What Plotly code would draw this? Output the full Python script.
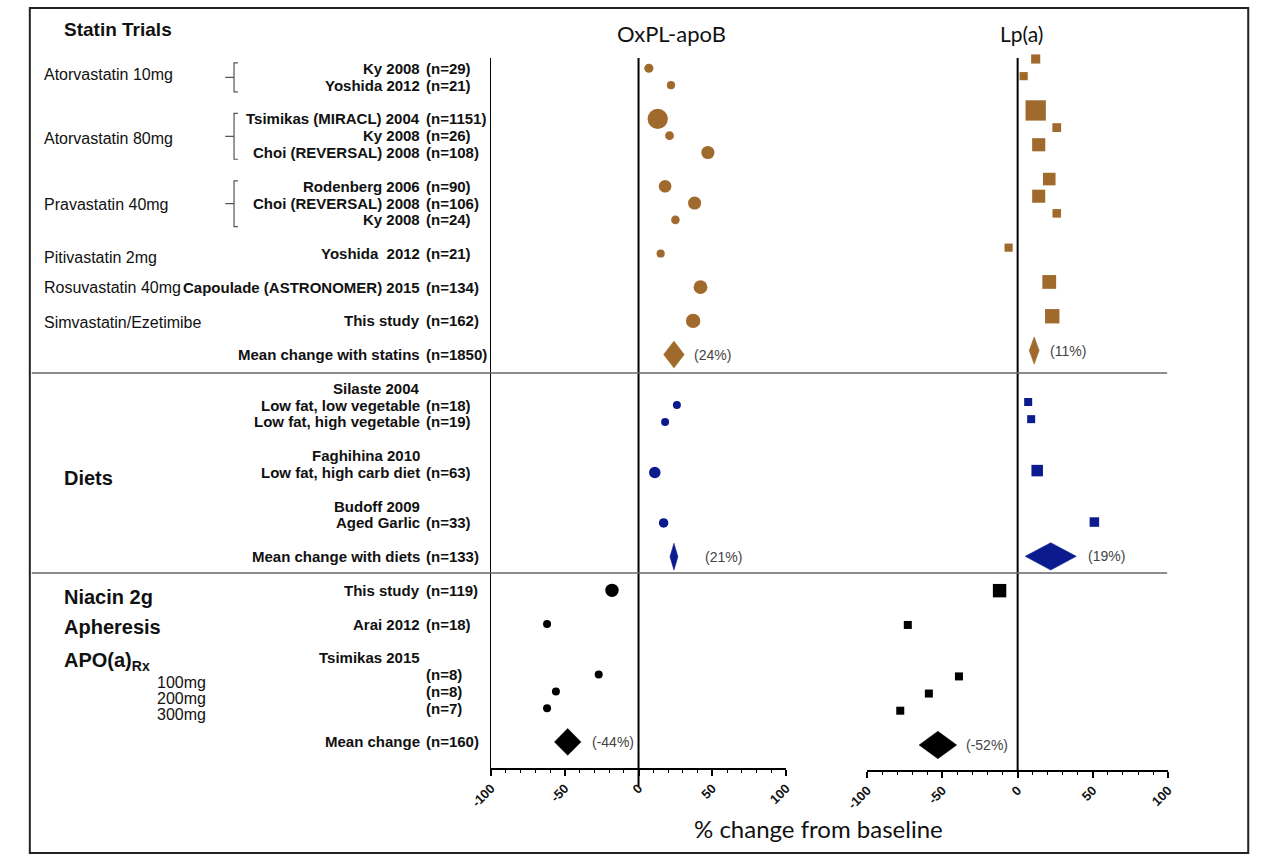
import math
import plotly.graph_objects as go

W, H = 1265, 857

# ---------------- data ----------------
statin_rows = [0, 1, 3, 4, 5, 7, 8, 9, 11, 13, 15]
statin_names = ["Ky 2008", "Yoshida 2012", "Tsimikas (MIRACL) 2004", "Ky 2008",
                "Choi (REVERSAL) 2008", "Rodenberg 2006", "Choi (REVERSAL) 2008",
                "Ky 2008", "Yoshida  2012", "Capoulade (ASTRONOMER) 2015", "This study"]
statin_n = [29, 21, 1151, 26, 108, 90, 106, 24, 21, 134, 162]
statin_oxpl = [7, 22, 13, 21, 47, 18, 38, 25, 15, 42, 37]
statin_lpa = [12, 4, 12, 26, 14, 21, 14, 26, -6, 21, 23]

statin_groups = ["Atorvastatin 10mg", "Atorvastatin 80mg", "Pravastatin 40mg",
                 "Pitivastatin 2mg", "Rosuvastatin 40mg", "Simvastatin/Ezetimibe"]
statin_group_rows = [0.36, 4.17, 8.1, 11.25, 13.0, 15.1]
bracket_spans = [(0, 1), (3, 5), (7, 9)]

diet_rows = [20, 21, 24, 27]
diet_names = ["Low fat, low vegetable", "Low fat, high vegetable",
              "Low fat, high carb diet", "Aged Garlic"]
diet_n = [18, 19, 63, 33]
diet_oxpl = [26, 18, 11, 17]
diet_lpa = [7, 9, 13, 51]
diet_headers = ["Silaste 2004", "Faghihina 2010", "Budoff 2009"]
diet_header_rows = [19, 23, 26]

other_rows = [31, 33, 36, 37, 38]
other_names = ["This study", "Arai 2012", "", "", ""]
other_n = [119, 18, 8, 8, 7]
other_oxpl = [-18, -62, -27, -56, -62]
other_lpa = [-12, -73, -39, -59, -78]
other_headers = ["Tsimikas 2015"]
other_header_rows = [35]
other_groups = ["<b>Niacin 2g</b>", "<b>Apheresis</b>", "<b>APO(a)<sub>Rx</sub></b>"]
other_group_rows = [31.4, 33.2, 35.2]
dose_labels = ["100mg", "200mg", "300mg"]
dose_rows = [36.5, 37.45, 38.4]

mean_rows = [17, 29, 40]
mean_names = ["Mean change with statins", "Mean change with diets", "Mean change"]
mean_n = [1850, 133, 160]
mean_oxpl = [24, 24, -48]
mean_oxpl_ci = [7, 2.7, 9]
mean_oxpl_text = ["(24%)", "(21%)", "(-44%)"]
mean_lpa = [11, 22, -53]
mean_lpa_ci = [3.3, 17, 12.5]
mean_lpa_text = ["(11%)", "(19%)", "(-52%)"]

tick_vals = [-100, -50, 0, 50, 100]
tick_text = [str(v) for v in tick_vals]

# ---------------- styling ----------------
BROWN = "#A06A2C"
BLUE = "#0B1A8C"
BLACK = "#000000"
ARIAL = "Liberation Sans, Arial, sans-serif"
CAL = "Lato, Open Sans, sans-serif"
ROW_PX = 16.84      # left panel / labels row pitch
ROW0 = 68.3
ROW_PX2 = 17.15     # right panel row pitch (slightly different in the original)
ROW0_2 = 59.0


def px(x):
    return x / W


def py(y):
    return 1 - y / H


def msize(n):
    return max(8.0, 8 + 7 * (math.log10(n) - 1.3))


fig = go.Figure()

sections = [
    (statin_rows, statin_n, statin_oxpl, statin_lpa, BROWN),
    (diet_rows, diet_n, diet_oxpl, diet_lpa, BLUE),
    (other_rows, other_n, other_oxpl, other_lpa, BLACK),
]
for rows, ns, ox, lp, col in sections:
    sizes = [msize(n) for n in ns]
    fig.add_trace(go.Scatter(x=ox, y=rows, mode="markers", xaxis="x", yaxis="y",
                             marker=dict(symbol="circle", size=sizes, color=col, opacity=1,
                                         line=dict(width=0)),
                             cliponaxis=False, showlegend=False, hoverinfo="x"))
    fig.add_trace(go.Scatter(x=lp, y=rows, mode="markers", xaxis="x2", yaxis="y2",
                             marker=dict(symbol="square", size=sizes, color=col, opacity=1,
                                         line=dict(width=0)),
                             cliponaxis=False, showlegend=False, hoverinfo="x"))

mean_cols = [BROWN, BLUE, BLACK]
DH = 0.8  # half height of diamonds in rows
for i, r in enumerate(mean_rows):
    for vals, cis, xa, ya in [(mean_oxpl, mean_oxpl_ci, "x", "y"),
                              (mean_lpa, mean_lpa_ci, "x2", "y2")]:
        m, c = vals[i], cis[i]
        fig.add_trace(go.Scatter(x=[m - c, m, m + c, m, m - c],
                                 y=[r, r - DH, r, r + DH, r],
                                 mode="lines", fill="toself", fillcolor=mean_cols[i],
                                 line=dict(color=mean_cols[i], width=0.5),
                                 cliponaxis=False,
                                 xaxis=xa, yaxis=ya, showlegend=False, hoverinfo="skip"))

ann = []
shapes = []

# percentage labels next to diamonds
oxpl_gap = [8, 25, 9]
lpa_gap = [9, 10, 7]
for i, r in enumerate(mean_rows):
    ann.append(dict(x=mean_oxpl[i] + mean_oxpl_ci[i], y=r, xref="x", yref="y",
                    text=mean_oxpl_text[i], showarrow=False, xanchor="left",
                    xshift=oxpl_gap[i], font=dict(family=ARIAL, size=14, color="#444")))
    ann.append(dict(x=mean_lpa[i] + mean_lpa_ci[i], y=r, xref="x2", yref="y2",
                    text=mean_lpa_text[i], showarrow=False, xanchor="left",
                    xshift=lpa_gap[i], font=dict(family=ARIAL, size=14, color="#444")))

NAME_X = px(409)
N_X = px(411)
lab_font = dict(family=ARIAL, size=15, color="#111")


def add_study(name, n, row):
    if name:
        ann.append(dict(x=NAME_X, y=row, xref="paper", yref="y", text="<b>%s</b>" % name,
                        showarrow=False, xanchor="right", font=lab_font))
    if n is not None:
        ann.append(dict(x=N_X, y=row, xref="paper", yref="y", text="<b>(n=%d)</b>" % n,
                        showarrow=False, xanchor="left", font=lab_font))


for nm, n, r in zip(statin_names, statin_n, statin_rows):
    add_study(nm, n, r)
for nm, n, r in zip(diet_names, diet_n, diet_rows):
    add_study(nm, n, r)
for nm, n, r in zip(other_names, other_n, other_rows):
    add_study(nm, n, r)
for nm, n, r in zip(mean_names, mean_n, mean_rows):
    add_study(nm, n, r)
for nm, r in zip(diet_headers + other_headers, diet_header_rows + other_header_rows):
    add_study(nm, None, r)

# group labels
for g, r in zip(statin_groups, statin_group_rows):
    ann.append(dict(x=px(20), y=r, xref="paper", yref="y", text=g, showarrow=False,
                    xanchor="left", font=dict(family=ARIAL, size=16, color="#111")))
for g, r in zip(other_groups, other_group_rows):
    ann.append(dict(x=px(41), y=r, xref="paper", yref="y", text=g, showarrow=False,
                    xanchor="left", font=dict(family=ARIAL, size=20, color="#111")))
for g, r in zip(dose_labels, dose_rows):
    ann.append(dict(x=px(136), y=r, xref="paper", yref="y", text=g, showarrow=False,
                    xanchor="left", font=dict(family=ARIAL, size=16, color="#111")))
ann.append(dict(x=px(41), y=24.3, xref="paper", yref="y", text="<b>Diets</b>",
                showarrow=False, xanchor="left", font=dict(family=ARIAL, size=20, color="#111")))
ann.append(dict(x=px(41), y=py(30), xref="paper", yref="paper", text="<b>Statin Trials</b>",
                showarrow=False, xanchor="left", yanchor="middle",
                font=dict(family=ARIAL, size=19, color="#111")))

# panel titles and axis title
ann.append(dict(x=px(665), y=py(33), xref="paper", yref="paper", text="OxPL-apoB",
                showarrow=False, xanchor="center", yanchor="middle",
                font=dict(family=CAL, size=22, color="#111")))
ann.append(dict(x=px(1023), y=py(33), xref="paper", yref="paper", text="Lp(a)",
                showarrow=False, xanchor="center", yanchor="middle",
                font=dict(family=CAL, size=21, color="#111")))
ann.append(dict(x=px(815), y=py(828), xref="paper", yref="paper",
                text="% change from baseline", showarrow=False, xanchor="center",
                yanchor="middle", font=dict(family=CAL, size=24, color="#111")))

# brackets
BX, HOOK, NUB = 217, 4, 9
for a, b in bracket_spans:
    top, bot = a - 0.32, b + 0.4
    mid = (top + bot) / 2
    path = ("M %f,%f L %f,%f L %f,%f L %f,%f M %f,%f L %f,%f" %
            (px(BX + HOOK), top, px(BX), top, px(BX), bot, px(BX + HOOK), bot,
             px(BX), mid, px(BX - NUB), mid))
    shapes.append(dict(type="path", path=path, xref="paper", yref="y",
                       line=dict(color="#555", width=1.2)))

# zero reference lines
shapes.append(dict(type="line", xref="x", yref="paper", x0=0, x1=0,
                   y0=py(58), y1=py(786), line=dict(color=BLACK, width=2)))
shapes.append(dict(type="line", xref="x2", yref="paper", x0=0, x1=0,
                   y0=py(58), y1=py(772), line=dict(color=BLACK, width=2)))

# section separators
for yy in [373, 573]:
    shapes.append(dict(type="line", xref="paper", yref="paper", x0=px(10), x1=px(1172),
                       y0=py(yy), y1=py(yy), line=dict(color="#666", width=1.5)))

# outer frame
shapes.append(dict(type="rect", xref="paper", yref="paper", x0=px(8), x1=px(1255),
                   y0=py(853), y1=py(8), line=dict(color="#222", width=2)))

axis_common = dict(range=[-100, 100], tickvals=tick_vals, ticktext=tick_text,
                   ticks="outside", ticklen=6,
                   tickwidth=1.5, tickcolor=BLACK, showline=True, linecolor=BLACK,
                   linewidth=1.5, showgrid=False, zeroline=False, tickangle=-45,
                   tickfont=dict(family=ARIAL, size=13, color="#111", weight="bold"),
                   minor=dict(dtick=10, ticks="outside", ticklen=3, tickcolor=BLACK,
                              tickwidth=1.2, showgrid=False),
                   fixedrange=True)

fig.update_layout(
    width=W, height=H, autosize=False,
    margin=dict(l=0, r=0, t=0, b=0),
    paper_bgcolor="white", plot_bgcolor="rgba(0,0,0,0)",
    showlegend=False,
    xaxis=dict(domain=[px(480), px(782)], anchor="y", **axis_common),
    xaxis2=dict(domain=[px(865), px(1173)], anchor="y2", **axis_common),
    yaxis=dict(domain=[py(768), py(58)],
               range=[(768 - ROW0) / ROW_PX, (58 - ROW0) / ROW_PX],
               anchor="x", showline=True, linecolor=BLACK, linewidth=1.2,
               showticklabels=False, ticks="", showgrid=False, zeroline=False,
               fixedrange=True),
    yaxis2=dict(domain=[py(770), py(58)],
                range=[(770 - ROW0_2) / ROW_PX2, (58 - ROW0_2) / ROW_PX2],
                anchor="x2", showline=False, showticklabels=False, ticks="",
                showgrid=False, zeroline=False, fixedrange=True),
    annotations=ann,
    shapes=shapes,
)

page_fix = ("document.documentElement.style.margin='0';"
            "document.documentElement.style.overflow='hidden';"
            "document.body.style.margin='0';document.body.style.padding='0';"
            "document.body.style.overflow='hidden';")

fig.write_html("out.html", config={"responsive": False, "displayModeBar": False},
               post_script=page_fix)
